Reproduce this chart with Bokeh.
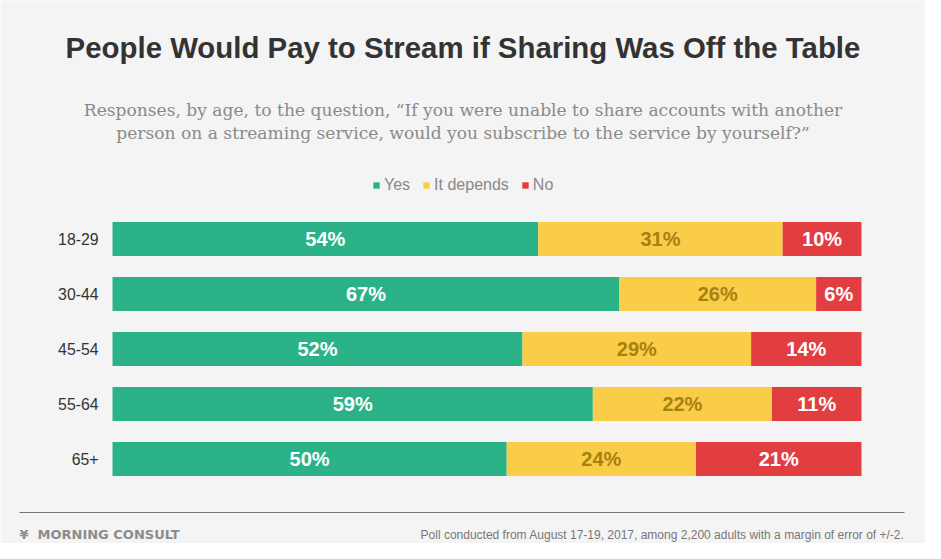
from bokeh.plotting import figure
from bokeh.models import Range1d, Legend, LegendItem, ColumnDataSource
from bokeh.core.properties import value
from bokeh.embed import file_html
from bokeh.resources import INLINE

ages = ["18-29", "30-44", "45-54", "55-64", "65+"]
yes = [54, 67, 52, 59, 50]
depends = [31, 26, 29, 22, 24]
no = [10, 6, 14, 11, 21]
series_names = ["Yes", "It depends", "No"]
colors = ["#2cb288", "#f9cd48", "#e23e42"]
label_colors = ["#ffffff", "#a88010", "#ffffff"]

title = "People Would Pay to Stream if Sharing Was Off the Table"
subtitle1 = "Responses, by age, to the question, \u201cIf you were unable to share accounts with another"
subtitle2 = "person on a streaming service, would you subscribe to the service by yourself?\u201d"
footer_note = "Poll conducted from August 17-19, 2017, among 2,200 adults with a margin of error of +/-2."
brand = "MORNING CONSULT"

BG = "#f4f4f4"
W, H = 925, 543
BAR_L, BAR_R = 112, 861      # px where 0% and 100% sit
ROW0, PITCH = 238.5, 55.0    # px centre of first row, row pitch

def X(px):
    return (px - BAR_L) / (BAR_R - BAR_L)

def Y(py):
    return (py - ROW0) / PITCH

p = figure(width=W, height=H, x_range=Range1d(X(0), X(W)), y_range=Range1d(Y(H), Y(0)),
           output_backend="svg", toolbar_location=None,
           min_border=0, min_border_left=0, min_border_right=0, min_border_top=0, min_border_bottom=0)
p.background_fill_color = BG
p.border_fill_color = BG
p.outline_line_color = None
p.xgrid.visible = False
p.ygrid.visible = False
p.xaxis.visible = False
p.yaxis.visible = False

rows = list(range(len(ages)))
totals = [a + b + c for a, b, c in zip(yes, depends, no)]

# category labels
p.text(x=[X(98)] * len(ages), y=rows, text=ages, text_align="right", text_baseline="middle",
       text_font=value("Liberation Sans"), text_font_size="15.8px", text_color="#333333")

lefts = [0.0] * len(ages)
renderers = []
for vals, col, lcol in zip([yes, depends, no], colors, label_colors):
    shares = [v / t for v, t in zip(vals, totals)]
    rights = [l + s for l, s in zip(lefts, shares)]
    src = ColumnDataSource(dict(row=rows, left=lefts, right=rights,
                                mid=[(l + r) / 2 for l, r in zip(lefts, rights)],
                                lab=[f"{v}%" for v in vals]))
    r = p.hbar(y="row", left="left", right="right", height=0.62, source=src,
               fill_color=col, line_color=None)
    renderers.append(r)
    p.text(x="mid", y="row", text="lab", source=src, text_align="center",
           text_baseline="middle", text_font=value("Liberation Sans"),
           text_font_style="bold", text_font_size="20px", text_color=lcol)
    lefts = rights

legend = Legend(items=[LegendItem(label=n, renderers=[r]) for n, r in zip(series_names, renderers)],
                orientation="horizontal", location=(372, H - 194),
                glyph_width=8, glyph_height=8, label_standoff=4, spacing=12,
                label_height=16, padding=0, margin=0,
                label_text_font="Liberation Sans", label_text_font_size="16px",
                label_text_color="#888888", border_line_color=None,
                background_fill_alpha=0)
p.add_layout(legend, "center")

def txt(s, px, py, align, font, size, color, bold=False):
    p.text(x=[X(px)], y=[Y(py)], text=[s], text_align=align, text_baseline="middle",
           text_font=value(font), text_font_style="bold" if bold else "normal",
           text_font_size=size, text_color=color)

cx = W / 2
txt(title, cx, 47, "center", "Liberation Sans", "29.4px", "#333333", bold=True)
txt(subtitle1, cx, 109, "center", "DejaVu Serif", "17.1px", "#8a8a8a")
txt(subtitle2, cx, 132, "center", "DejaVu Serif", "17.1px", "#8a8a8a")

p.segment(x0=[X(19)], x1=[X(904)], y0=[Y(512)], y1=[Y(512)], line_color="#777777", line_width=1.2)
txt("\u00a5", 19, 534, "left", "DejaVu Sans", "13px", "#8c8c8c", bold=True)
txt(brand, 37, 534, "left", "DejaVu Sans", "13px", "#8c8c8c", bold=True)
txt(footer_note, 904, 534, "right", "Liberation Sans", "12px", "#777777")

open("out.html", "w").write(file_html(p, INLINE))
